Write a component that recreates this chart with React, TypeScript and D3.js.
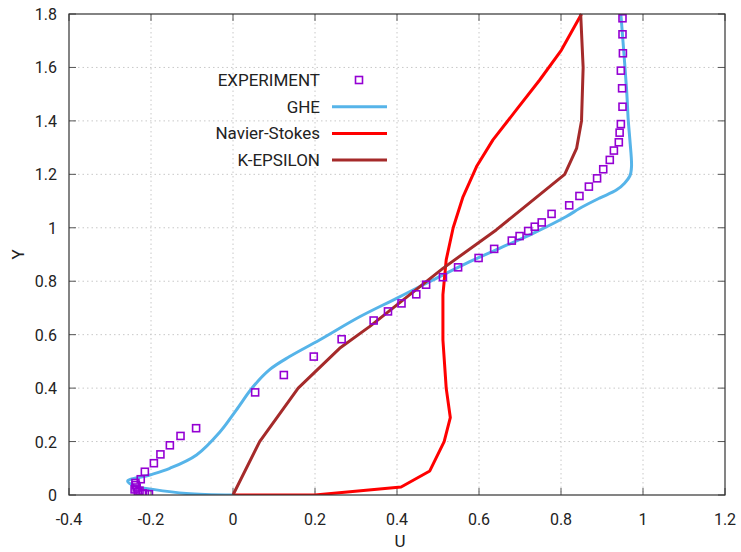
import { useRef, useEffect } from "react";
import * as d3 from "d3";

// experimental data (U, Y)
const expU = [-0.205, -0.215, -0.22, -0.228, -0.232, -0.24, -0.235, -0.237, -0.238, -0.225, -0.215, -0.193,
  -0.177, -0.154, -0.128, -0.09,
  0.054, 0.124, 0.197, 0.265, 0.343, 0.378, 0.411, 0.447, 0.471, 0.512, 0.549, 0.599, 0.637, 0.68, 0.699,
  0.72, 0.736, 0.753, 0.777, 0.82, 0.845, 0.868, 0.888, 0.903, 0.919, 0.929, 0.941, 0.943, 0.946, 0.95,
  0.949, 0.946, 0.951, 0.95, 0.95];
const expY = [0.003, 0.004, 0.006, 0.016, 0.012, 0.021, 0.028, 0.037, 0.045, 0.059, 0.087, 0.119,
  0.152, 0.186, 0.221, 0.25,
  0.384, 0.449, 0.518, 0.583, 0.653, 0.687, 0.717, 0.751, 0.787, 0.815, 0.852, 0.887, 0.921, 0.952, 0.969,
  0.988, 1.004, 1.02, 1.052, 1.084, 1.119, 1.154, 1.185, 1.219, 1.254, 1.289, 1.32, 1.356, 1.388, 1.453,
  1.522, 1.588, 1.653, 1.724, 1.784];

const gheU = [0, -0.114, -0.195, -0.236, -0.257, -0.203, -0.154, -0.089, -0.032, 0.008, 0.049, 0.09, 0.138,
  0.211, 0.309, 0.399, 0.488, 0.569, 0.65, 0.732, 0.813, 0.846, 0.894, 0.935, 0.955, 0.968, 0.972, 0.968,
  0.964, 0.96, 0.946];
const gheY = [0, 0.006, 0.021, 0.032, 0.052, 0.075, 0.1, 0.15, 0.236, 0.318, 0.405, 0.47, 0.518,
  0.58, 0.667, 0.736, 0.805, 0.867, 0.923, 0.979, 1.042, 1.073, 1.111, 1.141, 1.167, 1.194, 1.229, 1.329,
  1.403, 1.516, 1.8];

const nsU = [0, 0.2, 0.41, 0.48, 0.515, 0.53, 0.52, 0.512, 0.512, 0.52, 0.537, 0.561, 0.594, 0.634, 0.691,
  0.748, 0.801, 0.85];
const nsY = [0, 0, 0.03, 0.09, 0.2, 0.29, 0.4, 0.58, 0.75, 0.88, 1.0, 1.116, 1.229, 1.329, 1.441, 1.553,
  1.665, 1.8];

const keU = [0, 0.065, 0.159, 0.26, 0.333, 0.512, 0.642, 0.809, 0.838, 0.85, 0.854, 0.848];
const keY = [0, 0.2, 0.4, 0.549, 0.63, 0.848, 0.992, 1.2, 1.297, 1.4, 1.6, 1.8];

const xTicks = [-0.4, -0.2, 0, 0.2, 0.4, 0.6, 0.8, 1, 1.2];
const yTicks = [0, 0.2, 0.4, 0.6, 0.8, 1, 1.2, 1.4, 1.6, 1.8];

const series = [
  { name: "GHE", u: gheU, y: gheY, color: "#56b4e9", smooth: true },
  { name: "Navier-Stokes", u: nsU, y: nsY, color: "#ff0000", smooth: false },
  { name: "K-EPSILON", u: keU, y: keY, color: "#a52a2a", smooth: false },
];

export default function App() {
  const svgRef = useRef<SVGSVGElement>(null);

  useEffect(() => {
    const svg = d3.select(svgRef.current);
    svg.selectAll("*").remove();

    const width = 741;
    const height = 552;
    const left = 69, right = 725, top = 14, bottom = 495;
    const font = "Roboto, 'Noto Sans', sans-serif";

    const x = d3.scaleLinear().domain([-0.4, 1.2]).range([left, right]);
    const y = d3.scaleLinear().domain([0, 1.8]).range([bottom, top]);

    svg.attr("width", width).attr("height", height);

    // grid
    const grid = svg.append("g")
      .attr("stroke", "#c8c8c8")
      .attr("stroke-width", 1)
      .attr("stroke-dasharray", "1.5,3");
    xTicks.slice(1, -1).forEach(t => {
      grid.append("line").attr("x1", x(t)).attr("x2", x(t)).attr("y1", top).attr("y2", bottom);
    });
    yTicks.slice(1, -1).forEach(t => {
      grid.append("line").attr("x1", left).attr("x2", right).attr("y1", y(t)).attr("y2", y(t));
    });

    // ticks (inward, mirrored)
    const ticks = svg.append("g").attr("stroke", "#555").attr("stroke-width", 1);
    xTicks.forEach(t => {
      ticks.append("line").attr("x1", x(t)).attr("x2", x(t)).attr("y1", bottom).attr("y2", bottom - 7);
      ticks.append("line").attr("x1", x(t)).attr("x2", x(t)).attr("y1", top).attr("y2", top + 7);
    });
    yTicks.forEach(t => {
      ticks.append("line").attr("x1", left).attr("x2", left + 7).attr("y1", y(t)).attr("y2", y(t));
      ticks.append("line").attr("x1", right).attr("x2", right - 7).attr("y1", y(t)).attr("y2", y(t));
    });

    // tick labels
    svg.append("g").selectAll("text").data(xTicks).enter().append("text")
      .attr("x", d => x(d))
      .attr("y", 525)
      .attr("text-anchor", "middle")
      .style("font-family", font)
      .style("font-size", "16px")
      .style("fill", "#222")
      .text(d => String(d));
    svg.append("g").selectAll("text").data(yTicks).enter().append("text")
      .attr("x", 57)
      .attr("y", d => y(d) + 6)
      .attr("text-anchor", "end")
      .style("font-family", font)
      .style("font-size", "16px")
      .style("fill", "#222")
      .text(d => String(d));

    // axis titles
    svg.append("text")
      .attr("x", (left + right) / 2 + 3)
      .attr("y", 547)
      .attr("text-anchor", "middle")
      .style("font-family", font)
      .style("font-size", "17px")
      .style("fill", "#222")
      .text("U");
    svg.append("text")
      .attr("transform", `translate(24, ${(top + bottom) / 2}) rotate(-90)`)
      .attr("text-anchor", "middle")
      .style("font-family", font)
      .style("font-size", "17px")
      .style("fill", "#222")
      .text("Y");

    // clip
    svg.append("clipPath").attr("id", "plot-clip")
      .append("rect").attr("x", left).attr("y", top - 2).attr("width", right - left).attr("height", bottom - top + 2);

    const plot = svg.append("g").attr("clip-path", "url(#plot-clip)");

    series.forEach(s => {
      const pts: [number, number][] = s.u.map((u, i) => [u, s.y[i]]);
      const line = d3.line<[number, number]>()
        .x(d => x(d[0]))
        .y(d => y(d[1]))
        .curve(s.smooth ? d3.curveCatmullRom.alpha(0.5) : d3.curveLinear);
      plot.append("path")
        .attr("d", line(pts))
        .attr("fill", "none")
        .attr("stroke", s.color)
        .attr("stroke-width", 3)
        .attr("stroke-linejoin", "round");
    });

    // experiment squares
    plot.append("g").selectAll("rect").data(expU.map((u, i) => [u, expY[i]])).enter().append("rect")
      .attr("x", d => x(d[0]) - 3.5)
      .attr("y", d => y(d[1]) - 3.5)
      .attr("width", 7)
      .attr("height", 7)
      .attr("fill", "none")
      .attr("stroke", "#9400d3")
      .attr("stroke-width", 1.6);

    // border
    svg.append("rect")
      .attr("x", left).attr("y", top)
      .attr("width", right - left).attr("height", bottom - top)
      .attr("fill", "none")
      .attr("stroke", "#333")
      .attr("stroke-width", 1.2);

    // legend
    const legend = svg.append("g").attr("transform", "translate(320, 80)");
    legend.append("text")
      .attr("x", 0).attr("y", 6)
      .attr("text-anchor", "end")
      .style("font-family", font)
      .style("font-size", "17px")
      .style("fill", "#222")
      .text("EXPERIMENT");
    legend.append("rect")
      .attr("x", 39 - 3.5).attr("y", -3.5)
      .attr("width", 7).attr("height", 7)
      .attr("fill", "none")
      .attr("stroke", "#9400d3")
      .attr("stroke-width", 1.6);
    series.forEach((s, i) => {
      const row = legend.append("g").attr("transform", `translate(0, ${(i + 1) * 26.7})`);
      row.append("text")
        .attr("x", 0).attr("y", 6)
        .attr("text-anchor", "end")
        .style("font-family", font)
        .style("font-size", "17px")
        .style("fill", "#222")
        .text(s.name);
      row.append("line")
        .attr("x1", 12).attr("x2", 67)
        .attr("y1", 0).attr("y2", 0)
        .attr("stroke", s.color)
        .attr("stroke-width", 3);
    });
  }, []);

  return <svg ref={svgRef} style={{ position: "absolute", left: 0, top: 0 }}></svg>;
}
